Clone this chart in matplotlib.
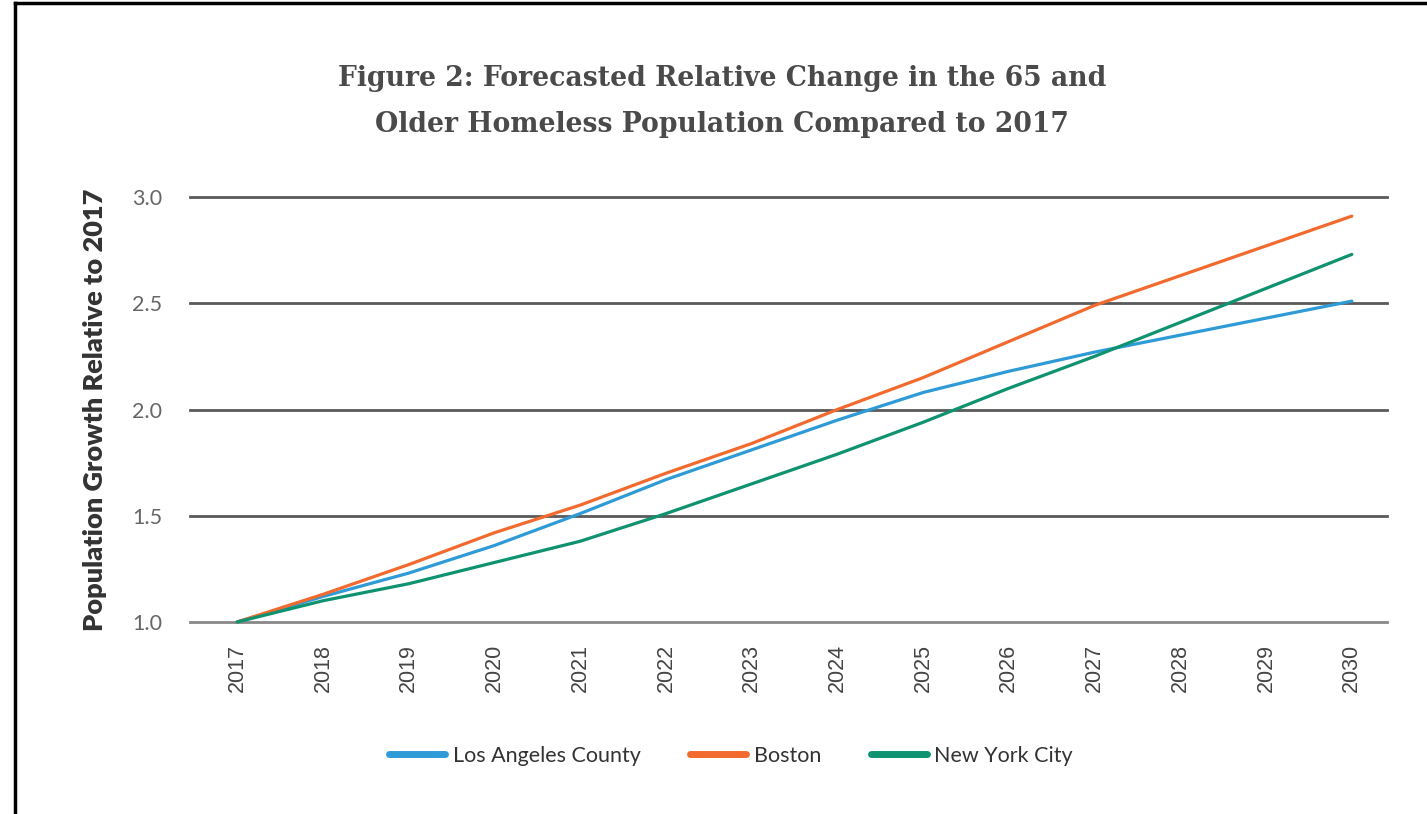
import matplotlib
matplotlib.use("Agg")
import matplotlib.pyplot as plt
from matplotlib.lines import Line2D

years = [2017, 2018, 2019, 2020, 2021, 2022, 2023, 2024, 2025, 2026, 2027, 2028, 2029, 2030]
los_angeles = [1.00, 1.12, 1.23, 1.36, 1.51, 1.67, 1.81, 1.95, 2.08, 2.18, 2.27, 2.35, 2.43, 2.51]
boston = [1.00, 1.13, 1.27, 1.42, 1.55, 1.70, 1.84, 2.00, 2.15, 2.32, 2.49, 2.63, 2.77, 2.91]
new_york = [1.00, 1.10, 1.18, 1.28, 1.38, 1.51, 1.65, 1.79, 1.94, 2.10, 2.25, 2.41, 2.57, 2.73]
series_names = ["Los Angeles County", "Boston", "New York City"]
y_ticks = [1.0, 1.5, 2.0, 2.5, 3.0]

colors = ["#2E9BD6", "#F26A2E", "#0F9270"]

W, H = 1427, 814
fig = plt.figure(figsize=(W / 100, H / 100), dpi=100)
ax = fig.add_axes([190 / W, 1 - 622 / H, (1387 - 190) / W, (622 - 197) / H])

for vals, name, c in zip([los_angeles, boston, new_york], series_names, colors):
    ax.plot(years, vals, color=c, lw=2.3, label=name, clip_on=False,
            solid_capstyle="round", zorder=3)

ax.set_xlim(2016.45, 2030.41)
ax.set_ylim(1.0, 3.0)
ax.set_yticks(y_ticks)
ax.set_yticklabels([f"{v:.1f}" for v in y_ticks], fontfamily="Lato",
                   fontsize=15.5, color="#666666")
ax.set_xticks(years)
ax.set_xticklabels([str(y) for y in years], rotation=90, fontfamily="Liberation Sans",
                   fontsize=15.5, color="#444444")
ax.tick_params(axis="y", length=0, pad=20)
ax.tick_params(axis="x", length=0, pad=16)
for s in ax.spines.values():
    s.set_visible(False)
for v in y_ticks:
    ax.axhline(v, color="#888888" if v == 1.0 else "#5a5a5a", lw=2.0, zorder=1, clip_on=False)

ax.set_ylabel("Population Growth Relative to 2017", fontfamily="Lato", fontweight="heavy",
              fontsize=19.5, color="#333333", labelpad=18)

fig.text(722 / W, 1 - 78 / H, "Figure 2: Forecasted Relative Change in the 65 and",
         ha="center", va="center", fontfamily="DejaVu Serif", fontweight="bold",
         fontsize=19.2, color="#4a4a4a")
fig.text(722 / W, 1 - 125 / H, "Older Homeless Population Compared to 2017",
         ha="center", va="center", fontfamily="DejaVu Serif", fontweight="bold",
         fontsize=19.2, color="#4a4a4a")

leg = fig.legend(loc="center", bbox_to_anchor=(731 / W, 1 - 756 / H), ncol=3,
                 frameon=False, handlelength=2.6, handletextpad=0.35, columnspacing=2.3,
                 prop={"family": "Lato", "size": 15.5})
for h in leg.legend_handles:
    h.set_linewidth(5)
    h.set_solid_capstyle("round")
for t in leg.get_texts():
    t.set_color("#333333")

# frame border (left and top)
fig.add_artist(Line2D([15 / W, 15 / W], [0, 1 - 3 / H], transform=fig.transFigure,
                      color="black", lw=2.5))
fig.add_artist(Line2D([15 / W, 1], [1 - 3 / H, 1 - 3 / H], transform=fig.transFigure,
                      color="black", lw=2.5))

fig.savefig("out.png", dpi=100, facecolor="white")
